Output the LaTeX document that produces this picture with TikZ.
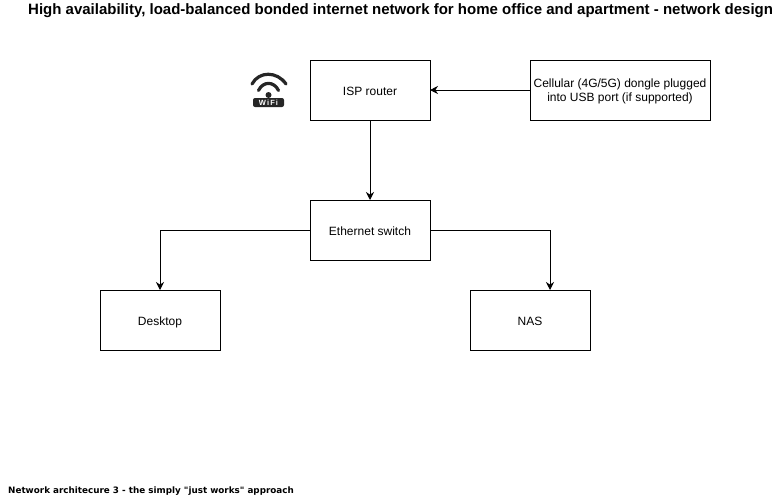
\documentclass[tikz,border=0pt]{standalone}
\usepackage{fontspec}
\setmainfont{Liberation Sans}
\newfontfamily\notefont{DejaVu Sans}
\usetikzlibrary{arrows.meta, positioning}
\tikzset{
	netbox/.style = {draw=black, fill=white, line width=0.9pt, rectangle, minimum width=120pt, minimum height=60pt, inner sep=0pt, outer sep=0pt, align=center, font=\fontsize{12}{14}\selectfont},
	oneline/.style = {text height=10pt, text depth=0pt},
	netlink/.style = {draw=black, line width=0.9pt, -{Stealth[length=8pt,width=8pt]}},
	heading/.style = {inner sep=0pt, font=\fontsize{15}{17}\selectfont\bfseries},
	footnote/.style = {inner sep=0pt, font=\fontsize{8.8}{10}\selectfont\notefont\bfseries},
	wifiarc/.style = {line width=3.2pt, color=black!85, line cap=round},
}
\begin{document}
\begin{tikzpicture}[x=1pt, y=1pt]
	\useasboundingbox (0,0) rectangle (781,-501);
	\node[heading, anchor=west] (title) at (28,-11) {High availability, load-balanced bonded internet network for home office and apartment - network design};
	\node[netbox, oneline] (isp) at (370,-90) {ISP router};
	\node[netbox, text depth=0pt, minimum width=180pt] (cell) at (620,-90) {Cellular (4G/5G) dongle plugged\\into USB port (if supported)};
	\node[netbox, oneline, below=80pt of isp] (eth) {Ethernet switch};
	\node[netbox, oneline] (desk) at (160,-320) {Desktop};
	\node[netbox, oneline] (nas) at (530,-320) {NAS};
	\node[footnote, anchor=west] (note) at (8,-491.5) {Network architecure 3 - the simply "just works" approach};
	% wifi sign
	\draw[wifiarc] (252,-84) .. controls (259,-71) and (277,-71) .. (286,-84);
	\draw[wifiarc] (258.5,-90.5) .. controls (263,-81) and (274,-81) .. (278.5,-90.5);
	\fill[black!85] (268.5,-95) circle (3pt);
	\node[fill=black!85, rounded corners=2pt, minimum width=31pt, minimum height=9pt, inner sep=0pt, text=white, font=\fontsize{7.5}{7.5}\selectfont\bfseries\addfontfeature{LetterSpace=15}] (wifi) at (268.5,-102.5) {WiFi};
	\draw[netlink] (cell) -- (isp);
	\draw[netlink] (isp) -- (eth);
	\draw[netlink] (eth.west) -| (desk.north);
	\draw[netlink] (eth.east) -| ([xshift=20pt]nas.north);
\end{tikzpicture}
\end{document}
